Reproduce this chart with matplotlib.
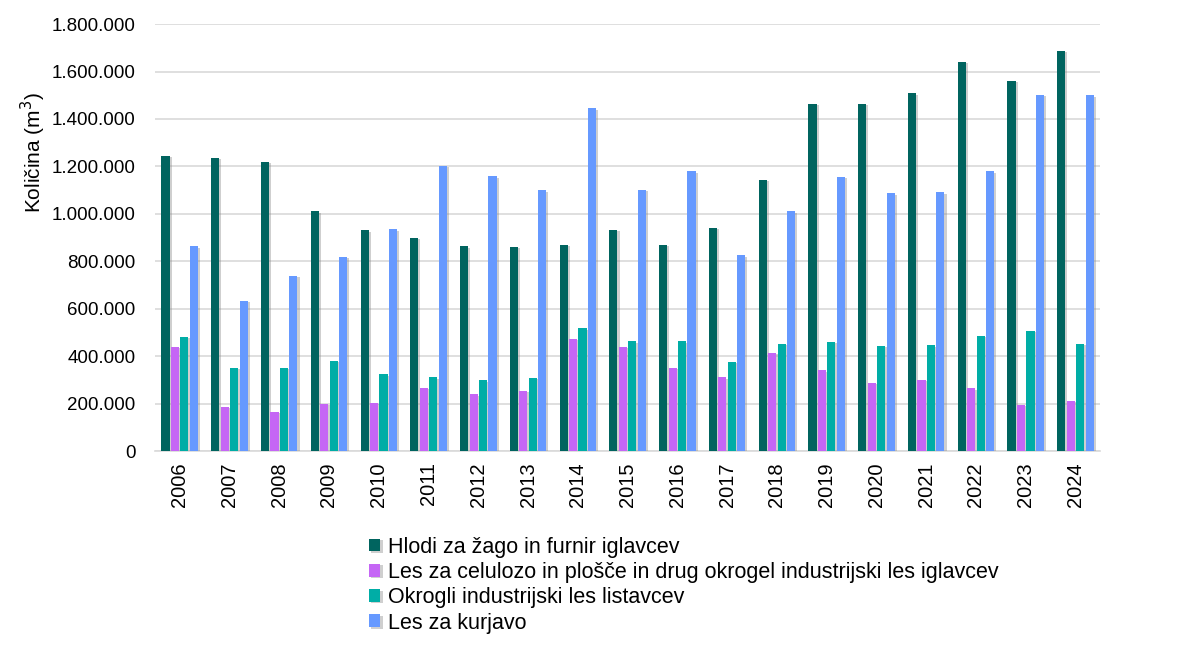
import matplotlib
matplotlib.use("Agg")
import matplotlib.pyplot as plt
import matplotlib.patheffects as pe
from matplotlib.ticker import FuncFormatter
import numpy as np

# Podatki (m3)
leta = [str(l) for l in range(2006, 2025)]
hlodi = [1245000, 1237000, 1220000, 1011000, 931000, 899000, 863000, 862000, 870000,
         932000, 869000, 941000, 1144000, 1463000, 1463000, 1508000, 1641000, 1561000, 1686000]
celuloza = [439000, 186000, 165000, 200000, 203000, 266000, 239000, 254000, 473000,
            439000, 351000, 311000, 414000, 341000, 289000, 300000, 265000, 196000, 211000]
listavci = [483000, 352000, 352000, 380000, 323000, 311000, 299000, 308000, 518000,
            463000, 463000, 376000, 451000, 461000, 444000, 446000, 485000, 507000, 451000]
kurjava = [863000, 634000, 739000, 818000, 935000, 1203000, 1158000, 1099000, 1445000,
           1101000, 1179000, 825000, 1011000, 1156000, 1086000, 1090000, 1180000, 1503000, 1500000]

imena = ['Hlodi za žago in furnir iglavcev',
         'Les za celulozo in plošče in drug okrogel industrijski les iglavcev',
         'Okrogli industrijski les listavcev',
         'Les za kurjavo']
barve = ['#00645F', '#C566F5', '#00ADA6', '#6699FF']

plt.rcParams['font.family'] = ['Liberation Sans', 'DejaVu Sans']

fig = plt.figure(figsize=(12, 6.5), dpi=100)
ax = fig.add_axes([0.129, 0.306, 0.788, 0.657])

x = np.arange(len(leta))
w = 0.19
serije = [hlodi, celuloza, listavci, kurjava]
senca = [pe.SimplePatchShadow(offset=(1.5, -1), shadow_rgbFace='#888888', alpha=0.4), pe.Normal()]
for i, (s, b, ime) in enumerate(zip(serije, barve, imena)):
    ax.bar(x + (i - 1.5) * w, s, width=w * 0.86, color=b, label=ime,
           path_effects=senca, zorder=3)

ax.set_xlim(-0.5, len(leta) - 0.5)
ax.set_ylim(0, 1800000)
ax.set_yticks(range(0, 1800001, 200000))
ax.yaxis.set_major_formatter(FuncFormatter(lambda v, p: f"{int(v):,}".replace(",", ".")))
ax.set_xticks(x)
ax.set_xticklabels(leta, rotation=90)
ax.tick_params(axis='both', length=0, colors='black')
ax.tick_params(axis='y', labelsize=13.5, pad=14)
ax.tick_params(axis='x', labelsize=14.5, pad=8)
ax.grid(axis='y', color='#D9D9D9', linewidth=1.2, zorder=0)
for sp in ['top', 'right', 'left']:
    ax.spines[sp].set_visible(False)
ax.spines['bottom'].set_color('#D9D9D9')
ax.spines['bottom'].set_linewidth(1.2)

ax.set_ylabel('Količina (m$^3$)', fontsize=15)
ax.yaxis.set_label_coords(-0.113, 0.70)

fig.legend(loc='upper left', bbox_to_anchor=(0.3, 1 - 528 / 650), frameon=False,
           fontsize=15.5, handlelength=0.55, handleheight=0.55, handletextpad=0.35,
           labelspacing=0.2, borderaxespad=0)

fig.savefig('out.png', dpi=100)
